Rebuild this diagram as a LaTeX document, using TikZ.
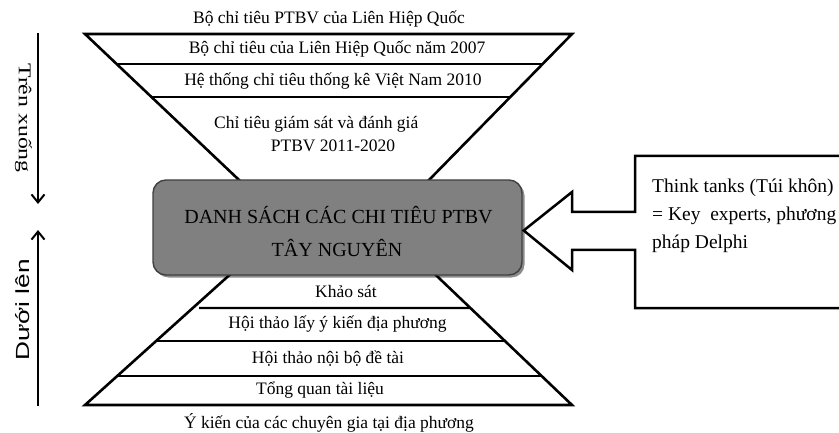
\documentclass[tikz,border=0pt]{standalone}
\usepackage{fontspec}
\setmainfont{Liberation Serif}
\newfontfamily\sansf{Liberation Sans}
\usetikzlibrary{arrows.meta,shadows,calc}
\begin{document}
\begin{tikzpicture}[x=1pt,y=-1pt,
  outer/.style={line width=2.6pt, line join=miter, line cap=butt},
  band/.style={line width=2.2pt},
  txt/.style={inner sep=0pt, anchor=base, font=\fontsize{17.5}{21}\selectfont},
  calltxt/.style={inner sep=0pt, anchor=base west, font=\fontsize{19.5}{23}\selectfont},
  bigtxt/.style={inner sep=0pt, anchor=base, font=\fontsize{20}{24}\selectfont},
  mainbox/.style={draw=black!75, line width=1.4pt, fill=black!50, rounded corners=13pt,
    minimum width=369pt, minimum height=95pt, inner sep=0pt,
    drop shadow={shadow xshift=2.5pt, shadow yshift=-2.5pt, opacity=0.45, fill=black}},
  larrow/.style={line width=2pt, -{Straight Barb[length=8pt, width=13pt, line width=2pt]}},
  callout/.style={line width=2.5pt, line join=miter}
]
\useasboundingbox (0,0) rectangle (839,433);

% ---- top funnel (inverted trapezoid)
\coordinate (tTL) at (85,34);
\coordinate (tTR) at (572,34);
\coordinate (tBL) at (238,179);
\coordinate (tBR) at (430,179);
\draw[outer] ($(tTL)!1.05!(tBL)$) -- (tTL) -- (tTR) -- ($(tTR)!1.05!(tBR)$);
\draw[band] ($(tTL)!0.2069!(tBL)$) -- ($(tTR)!0.2069!(tBR)$);
\draw[band] ($(tTL)!0.4345!(tBL)$) -- ($(tTR)!0.4345!(tBR)$);

% ---- bottom pyramid (trapezoid)
\coordinate (bBL) at (85,405);
\coordinate (bBR) at (572,405);
\coordinate (bTL) at (225,279);
\coordinate (bTR) at (440,279);
\draw[outer] ($(bBL)!1.05!(bTL)$) -- (bBL) -- (bBR) -- ($(bBR)!1.05!(bTR)$);
\draw[band] (199,308) -- ($(bBR)!0.770!(bTR)$);
\draw[band] ($(bBL)!0.508!(bTL)$) -- ($(bBR)!0.508!(bTR)$);
\draw[band] ($(bBL)!0.230!(bTL)$) -- ($(bBR)!0.230!(bTR)$);

% ---- central box
\node[mainbox] (main) at (337.5,227.5) {};
\node[bigtxt] (mainA) at (338.5,223.5) {DANH SÁCH CÁC CHI TIÊU PTBV};
\node[bigtxt] (mainB) at (337,256.5) {TÂY NGUYÊN};

% ---- top texts
\node[txt] (t0) at (329,23.5) {Bộ chỉ tiêu PTBV của Liên Hiệp Quốc};
\node[txt] (t1) at (337,53.5) {Bộ chỉ tiêu của Liên Hiệp Quốc năm 2007};
\node[txt] (t2) at (333,85.5) {Hệ thống chỉ tiêu thống kê Việt Nam 2010};
\node[txt, anchor=base west] (t3) at (214,128.5) {Chỉ tiêu giám sát và đánh giá};
\node[txt] (t4) at (333,151.5) {PTBV 2011-2020};

% ---- bottom texts
\node[txt] (b1) at (346,297.5) {Khảo sát};
\node[txt] (b2) at (337.5,328.5) {Hội thảo lấy ý kiến địa phương};
\node[txt] (b3) at (328,363.5) {Hội thảo nội bộ đề tài};
\node[txt] (b4) at (320,394.5) {Tổng quan tài liệu};
\node[txt] (b5) at (329,428.5) {Ý kiến của các chuyên gia tại địa phương};

% ---- left arrows and labels
\coordinate (a1s) at (38,33);
\coordinate (a1e) at (38,204);
\coordinate (a2s) at (38,406);
\coordinate (a2e) at (38,230);
\draw[larrow] (a1s) -- (a1e);
\draw[larrow] (a2s) -- (a2e);
\node[inner sep=0pt, anchor=base, rotate=-90, font=\fontsize{18}{21}\selectfont] (lab1) at (19,118) {\scalebox{1.32}[1]{Trên xuống}};
\node[inner sep=0pt, anchor=base, rotate=90, font=\sansf\fontsize{19}{23}\selectfont] (lab2) at (29,310) {\scalebox{1.38}[1]{Dưới lên}};

% ---- callout with left arrow
\coordinate (tip) at ($(main.east)+(1,3)$);
\draw[callout] (855,156) -- (635,156) -- (635,212) -- (572,212) -- (572,192) -- (tip)
  -- (572,270) -- (572,250) -- (635,250) -- (635,308) -- (855,308);
\node[calltxt] (c1) at (652,193) {Think tanks (Túi khôn)};
\node[calltxt] (c2) at (652,221) {= Key~ experts, phương};
\node[calltxt] (c3) at (652,249) {pháp Delphi};
\end{tikzpicture}
\end{document}
